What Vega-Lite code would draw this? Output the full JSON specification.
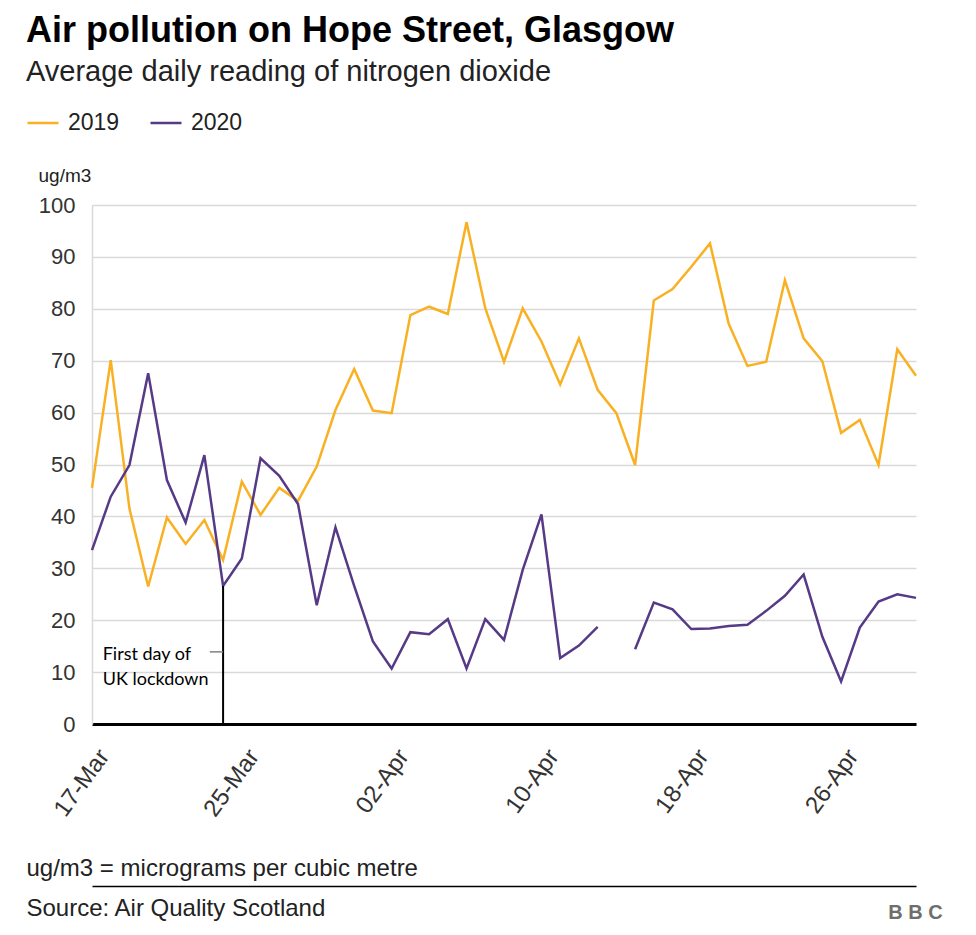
{
  "$schema": "https://vega.github.io/schema/vega-lite/v6.json",
  "width": 824,
  "height": 519,
  "autosize": {"type": "none"},
  "padding": {"left": 92, "top": 205, "right": 60, "bottom": 211},
  "background": "white",
  "title": {
    "text": "Air pollution on Hope Street, Glasgow",
    "subtitle": "Average daily reading of nitrogen dioxide",
    "anchor": "start",
    "frame": "group",
    "dx": -66,
    "offset": 18,
    "font": "Liberation Sans",
    "fontSize": 36,
    "fontWeight": "bold",
    "color": "#000000",
    "subtitleFont": "Liberation Sans",
    "subtitleFontSize": 29,
    "subtitleColor": "#222222",
    "subtitlePadding": 8
  },
  "config": {"view": {"stroke": null}, "font": "Liberation Sans"},
  "datasets": {
    "no2": [
      {"date": "2020-03-17", "2019": 45.5, "2020": 33.5},
      {"date": "2020-03-18", "2019": 70.1, "2020": 43.8},
      {"date": "2020-03-19", "2019": 41.5, "2020": 49.9},
      {"date": "2020-03-20", "2019": 26.5, "2020": 67.6},
      {"date": "2020-03-21", "2019": 39.8, "2020": 47.0},
      {"date": "2020-03-22", "2019": 34.7, "2020": 38.8},
      {"date": "2020-03-23", "2019": 39.3, "2020": 51.8},
      {"date": "2020-03-24", "2019": 31.6, "2020": 26.6},
      {"date": "2020-03-25", "2019": 46.7, "2020": 31.9},
      {"date": "2020-03-26", "2019": 40.3, "2020": 51.2},
      {"date": "2020-03-27", "2019": 45.5, "2020": 47.8},
      {"date": "2020-03-28", "2019": 43.0, "2020": 42.4},
      {"date": "2020-03-29", "2019": 49.6, "2020": 22.9},
      {"date": "2020-03-30", "2019": 60.5, "2020": 37.9},
      {"date": "2020-03-31", "2019": 68.4, "2020": 26.6},
      {"date": "2020-04-01", "2019": 60.4, "2020": 15.9},
      {"date": "2020-04-02", "2019": 59.9, "2020": 10.7},
      {"date": "2020-04-03", "2019": 78.8, "2020": 17.7},
      {"date": "2020-04-04", "2019": 80.4, "2020": 17.3},
      {"date": "2020-04-05", "2019": 79.0, "2020": 20.2},
      {"date": "2020-04-06", "2019": 96.7, "2020": 10.7},
      {"date": "2020-04-07", "2019": 80.1, "2020": 20.2},
      {"date": "2020-04-08", "2019": 69.8, "2020": 16.2},
      {"date": "2020-04-09", "2019": 80.1, "2020": 29.7},
      {"date": "2020-04-10", "2019": 73.7, "2020": 40.4},
      {"date": "2020-04-11", "2019": 65.4, "2020": 12.7},
      {"date": "2020-04-12", "2019": 74.3, "2020": 15.1},
      {"date": "2020-04-13", "2019": 64.4, "2020": 18.7},
      {"date": "2020-04-14", "2019": 59.9, "2020": null},
      {"date": "2020-04-15", "2019": 49.9, "2020": 14.4},
      {"date": "2020-04-16", "2019": 81.6, "2020": 23.4},
      {"date": "2020-04-17", "2019": 83.8, "2020": 22.1},
      {"date": "2020-04-18", "2019": 88.1, "2020": 18.3},
      {"date": "2020-04-19", "2019": 92.6, "2020": 18.4},
      {"date": "2020-04-20", "2019": 77.1, "2020": 18.9},
      {"date": "2020-04-21", "2019": 69.0, "2020": 19.1},
      {"date": "2020-04-22", "2019": 69.8, "2020": 21.8},
      {"date": "2020-04-23", "2019": 85.5, "2020": 24.7},
      {"date": "2020-04-24", "2019": 74.3, "2020": 28.8},
      {"date": "2020-04-25", "2019": 69.9, "2020": 16.8},
      {"date": "2020-04-26", "2019": 56.1, "2020": 8.2},
      {"date": "2020-04-27", "2019": 58.6, "2020": 18.6},
      {"date": "2020-04-28", "2019": 49.9, "2020": 23.6},
      {"date": "2020-04-29", "2019": 72.2, "2020": 25.0},
      {"date": "2020-04-30", "2019": 67.1, "2020": 24.3}
    ]
  },
  "layer": [
    {
      "data": {"name": "no2"},
      "transform": [{"fold": ["2019", "2020"], "as": ["year", "value"]}],
      "mark": {"type": "line", "strokeWidth": 2.5, "invalid": "break-paths-show-domains"},
      "encoding": {
        "x": {
          "field": "date",
          "type": "temporal",
          "scale": {
            "type": "utc",
            "domain": [
              {"year": 2020, "month": 3, "date": 17, "utc": true},
              {"year": 2020, "month": 4, "date": 30, "utc": true}
            ]
          },
          "axis": {
            "orient": "bottom",
            "values": [
              {"year": 2020, "month": 3, "date": 17, "utc": true},
              {"year": 2020, "month": 3, "date": 25, "utc": true},
              {"year": 2020, "month": 4, "date": 2, "utc": true},
              {"year": 2020, "month": 4, "date": 10, "utc": true},
              {"year": 2020, "month": 4, "date": 18, "utc": true},
              {"year": 2020, "month": 4, "date": 26, "utc": true}
            ],
            "format": "%d-%b",
            "labelAngle": -54,
            "labelFontSize": 24,
            "labelColor": "#333333",
            "labelPadding": 28,
            "labelOffset": 12,
            "labelOverlap": false,
            "labelFlush": false,
            "ticks": false,
            "grid": false,
            "domainColor": "#000000",
            "domainWidth": 3,
            "title": "ug/m3 = micrograms per cubic metre",
            "titleX": -66,
            "titleY": 144,
            "titleAlign": "left",
            "titleBaseline": "middle",
            "titleFontSize": 24,
            "titleFontWeight": "normal",
            "titleColor": "#222222"
          }
        },
        "y": {
          "field": "value",
          "type": "quantitative",
          "scale": {"domain": [0, 100], "nice": false},
          "axis": {
            "orient": "left",
            "values": [0, 10, 20, 30, 40, 50, 60, 70, 80, 90, 100],
            "title": "ug/m3",
            "titleAngle": 0,
            "titleAlign": "left",
            "titleBaseline": "middle",
            "titleX": -54,
            "titleY": -30,
            "titleFontSize": 19,
            "titleFontWeight": "normal",
            "titleColor": "#222222",
            "labelFontSize": 22,
            "labelColor": "#333333",
            "labelPadding": 17,
            "ticks": false,
            "domainColor": "#d9d9d9",
            "domainWidth": 1.5,
            "grid": true,
            "gridColor": "#d9d9d9",
            "gridWidth": 1.5
          }
        },
        "color": {
          "field": "year",
          "type": "nominal",
          "scale": {"domain": ["2019", "2020"], "range": ["#F9B123", "#563A86"]},
          "legend": {
            "orient": "none",
            "legendX": -66,
            "legendY": -99,
            "direction": "horizontal",
            "title": null,
            "labelFontSize": 23,
            "labelColor": "#222222",
            "labelOffset": 8,
            "symbolType": "stroke",
            "symbolStrokeWidth": 2.5,
            "symbolSize": 961,
            "columnPadding": 25
          }
        }
      }
    },
    {
      "data": {"values": [{"date": "2020-03-24", "from": 0, "to": 26.6}]},
      "mark": {"type": "rule", "color": "#000000", "strokeWidth": 2},
      "encoding": {
        "x": {
          "field": "date",
          "type": "temporal",
          "axis": {
            "orient": "bottom",
            "offset": 162,
            "labels": false,
            "ticks": false,
            "grid": false,
            "domain": true,
            "domainColor": "#000000",
            "domainWidth": 1.5,
            "title": "Source: Air Quality Scotland",
            "titleX": -66,
            "titleY": 22,
            "titleAlign": "left",
            "titleBaseline": "middle",
            "titleFontSize": 24,
            "titleFontWeight": "normal",
            "titleColor": "#222222"
          }
        },
        "y": {"field": "from", "type": "quantitative", "axis": null},
        "y2": {"field": "to"}
      }
    },
    {
      "data": {"values": [{"start": "2020-03-23T07:00:00Z", "end": "2020-03-24", "level": 13.9}]},
      "mark": {"type": "rule", "color": "#808080", "strokeWidth": 1.5},
      "encoding": {
        "x": {"field": "start", "type": "temporal", "axis": null},
        "x2": {"field": "end"},
        "y": {"field": "level", "type": "quantitative", "axis": null}
      }
    },
    {
      "data": {"values": [{"date": "2020-03-17T13:40:00Z", "level": 13.2, "note": ["First day of", "UK lockdown"]}]},
      "mark": {"type": "text", "align": "left", "baseline": "middle", "font": "Lato", "fontSize": 18, "lineHeight": 25, "color": "#000000"},
      "encoding": {
        "x": {"field": "date", "type": "temporal", "axis": null},
        "y": {
          "field": "level",
          "type": "quantitative",
          "axis": {
            "orient": "right",
            "domain": false,
            "labels": false,
            "ticks": false,
            "grid": false,
            "title": "B B C",
            "titleAngle": 0,
            "titleAlign": "center",
            "titleBaseline": "middle",
            "titleX": -1,
            "titleY": 707,
            "titleFontSize": 20,
            "titleFontWeight": "bold",
            "titleColor": "#6e6e6e"
          }
        },
        "text": {"field": "note"}
      }
    }
  ],
  "resolve": {"axis": {"x": "independent", "y": "independent"}}
}
